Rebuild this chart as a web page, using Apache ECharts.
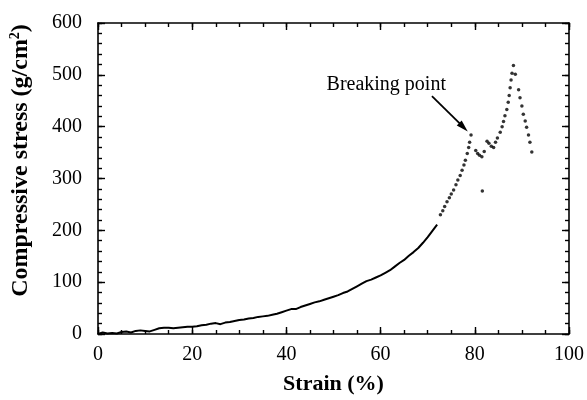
<!DOCTYPE html>
<html><head><meta charset="utf-8">
<script src="https://cdn.jsdelivr.net/npm/echarts@6/dist/echarts.min.js"></script>
<style>html,body{margin:0;padding:0;background:#fff}#c{width:587px;height:400px}</style>
</head><body><div id="c"></div>
<script>
// Solid (dense) part of the curve: strain %, stress g/cm2
const solidStrain = [0,1,2,3,4,5,6,7,8,9,10,11,12,13,14,15,16,17,18,19,20,21,22,23,24,25,26,27,28,29,30,31,32,33,34,35,36,37,38,39,40,41,42,43,44,45,46,47,48,49,50,51,52,53,54,55,56,57,58,59,60,61,62,63,64,65,66,67,68,69,70,71,72];
const solidStress = [0,3,1,2,1,4,5,3,6,7,6,5,8,11,12,12,11,12,13,14,14,15,17,18,20,21,19,22,23,25,27,28,30,31,33,34,35,37,39,42,45,48,48,52,55,58,61,63,66,69,72,75,79,82,87,92,97,102,105,109,113,118,123,130,137,143,151,158,166,176,187,199,211];
// Dotted (sparse) part of the curve
const dotStrain = [72.7,73.2,73.6,74.1,74.6,75.0,75.5,76.0,76.4,76.9,77.3,77.7,78.0,78.4,78.7,78.9,79.2,80.2,80.6,81.0,81.5,82.0,82.6,83.0,83.5,84.0,84.4,84.8,85.4,85.8,86.1,86.4,86.8,87.1,87.3,87.5,87.7,87.9,88.2,88.6,89.3,89.6,90.0,90.3,90.7,91.0,91.4,91.7,92.1,81.6];
const dotStress = [230,238,246,255,263,270,278,288,297,306,316,326,335,348,360,370,384,354,348,345,342,352,372,368,362,360,370,378,389,400,410,421,433,447,460,475,490,503,518,501,471,456,440,424,411,399,384,370,351,276];
const xTicks = [0,20,40,60,80,100];
const yTicks = [0,100,200,300,400,500,600];
const annotationText = 'Breaking point';
const arrowFrom = [70.9,459];
const arrowTo = [77.6,399];
const textAnchor = [61.2,481];

const chart = echarts.init(document.getElementById('c'));
const font = 'Liberation Serif, Times New Roman, serif';
function axis(extra, tickLen, showLine){
  return Object.assign({
    type:'value',
    axisLine:{show:showLine,onZero:false,lineStyle:{color:'#000',width:1.6}},
    axisTick:{show:true,inside:true,length:tickLen,lineStyle:{color:'#000',width:1.4}},
    axisLabel:{show:false},
    splitLine:{show:false}
  }, extra);
}
const xMajor = {min:0,max:100,interval:20};
const xMinor = {min:0,max:100,interval:5};
const yMajor = {min:0,max:600,interval:100};
const yMinor = {min:0,max:600,interval:20};
chart.setOption({
  animation:false,
  backgroundColor:'#fff',
  grid:{left:97,right:18,top:23,bottom:63},
  xAxis:[
    axis(Object.assign({position:'bottom',
      axisLabel:{show:true,color:'#000',fontFamily:font,fontSize:20,margin:11,formatter:v=>xTicks.includes(v)?String(v):''},
      name:'Strain (%)',nameLocation:'middle',nameGap:39,
      nameTextStyle:{color:'#000',fontFamily:font,fontWeight:'bold',fontSize:22}},xMajor),7,true),
    axis(Object.assign({position:'top'},xMajor),7,true),
    axis(Object.assign({position:'bottom'},xMinor),4,false),
    axis(Object.assign({position:'top'},xMinor),4,false)
  ],
  yAxis:[
    axis(Object.assign({position:'left',
      axisLabel:{show:true,color:'#000',fontFamily:font,fontSize:20,margin:16,formatter:v=>yTicks.includes(v)?String(v):''},
      name:'{n|Compressive stress (g/cm}{s|2}{n|)}',nameLocation:'middle',nameGap:64,
      nameTextStyle:{padding:[0,0,0,36],rich:{n:{color:'#000',fontFamily:font,fontWeight:'bold',fontSize:24},s:{color:'#000',fontFamily:font,fontWeight:'bold',fontSize:14,verticalAlign:'top',padding:[0,0,12,0]}}}},yMajor),7,true),
    axis(Object.assign({position:'right'},yMajor),7,true),
    axis(Object.assign({position:'left'},yMinor),4,false),
    axis(Object.assign({position:'right'},yMinor),4,false)
  ],
  series:[
    {type:'line',data:solidStrain.map((x,i)=>[x,solidStress[i]]),showSymbol:false,symbol:'none',
      lineStyle:{color:'#000',width:2},silent:true},
    {type:'scatter',data:dotStrain.map((x,i)=>[x,dotStress[i]]),symbolSize:3.5,itemStyle:{color:'#000'},silent:true,
      markLine:{silent:true,symbol:['none','triangle'],symbolSize:[7,12],
        lineStyle:{color:'#000',width:1.8,type:'solid'},label:{show:false},
        data:[[{coord:arrowFrom},{coord:arrowTo}]]},
      markPoint:{silent:true,symbol:'circle',symbolSize:0,
        label:{show:true,formatter:annotationText,color:'#000',fontFamily:font,fontSize:20,position:'inside'},
        data:[{coord:textAnchor,value:0}]}}
  ]
});
</script></body></html>
